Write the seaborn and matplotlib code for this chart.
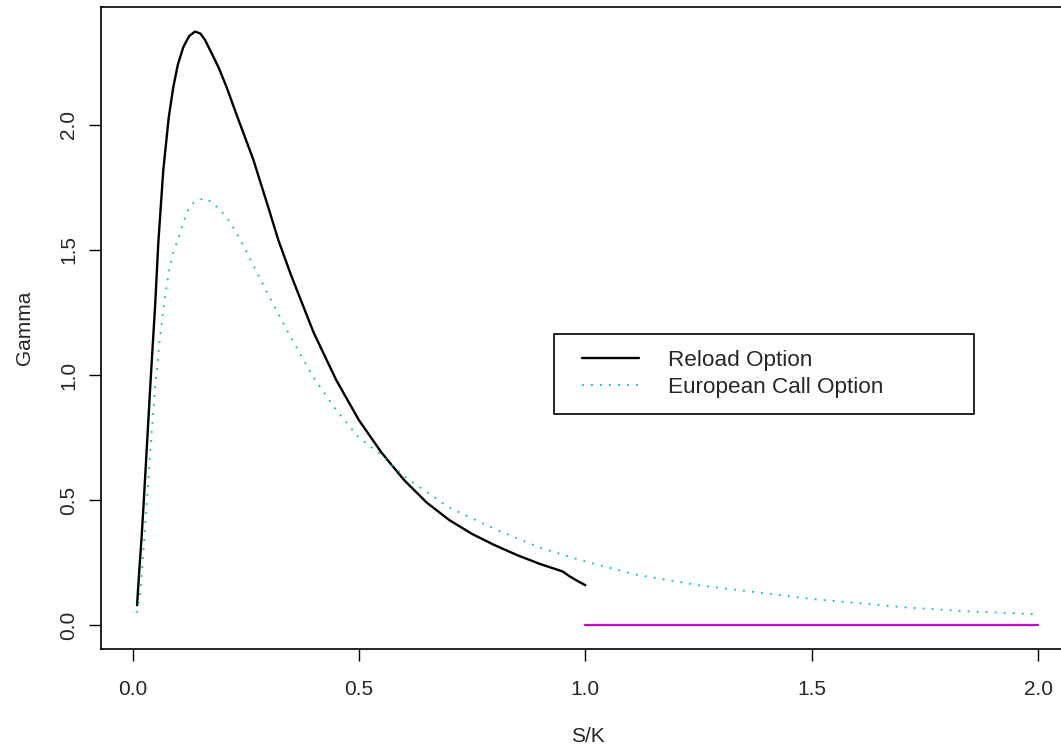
import matplotlib
matplotlib.use("Agg")
import matplotlib.pyplot as plt
from matplotlib.lines import Line2D
from matplotlib.legend_handler import HandlerLine2D
import seaborn as sns

# values
reload_x = [0.010, 0.015, 0.020, 0.025, 0.030, 0.035, 0.040, 0.045, 0.050, 0.057,
            0.068, 0.080, 0.090, 0.100, 0.112, 0.125, 0.138, 0.150, 0.160, 0.171,
            0.190, 0.208, 0.230, 0.267, 0.300, 0.322, 0.350, 0.400, 0.450, 0.500,
            0.550, 0.600, 0.650, 0.700, 0.750, 0.800, 0.850, 0.900, 0.950, 0.966,
            0.980, 1.000]
reload_y = [0.08, 0.22, 0.35, 0.50, 0.66, 0.82, 0.98, 1.13, 1.28, 1.53,
            1.82, 2.03, 2.15, 2.24, 2.31, 2.355, 2.373, 2.365, 2.34, 2.30,
            2.23, 2.15, 2.04, 1.86, 1.67, 1.54, 1.40, 1.17, 0.98, 0.82,
            0.69, 0.58, 0.49, 0.42, 0.365, 0.32, 0.28, 0.245, 0.215, 0.195,
            0.18, 0.16]

euro_x = [0.010, 0.017, 0.0225, 0.028, 0.035, 0.040, 0.050, 0.060, 0.070, 0.080,
          0.090, 0.103, 0.112, 0.123, 0.135, 0.146, 0.162, 0.175, 0.186, 0.207,
          0.226, 0.250, 0.300, 0.350, 0.400, 0.450, 0.500, 0.550, 0.600, 0.700,
          0.800, 0.900, 1.000, 1.110, 1.250, 1.500, 1.709, 1.850, 1.990]
euro_y = [0.05, 0.13, 0.25, 0.40, 0.58, 0.72, 0.95, 1.14, 1.29, 1.41,
          1.49, 1.555, 1.61, 1.66, 1.69, 1.70, 1.707, 1.69, 1.673, 1.633,
          1.58, 1.50, 1.32, 1.15, 0.99, 0.86, 0.75, 0.68, 0.595, 0.47,
          0.385, 0.31, 0.255, 0.203, 0.16, 0.105, 0.071, 0.055, 0.045]

zero_x = [1.0, 2.0]
zero_y = [0.0, 0.0]

x_ticks = [0.0, 0.5, 1.0, 1.5, 2.0]
x_labels = ["0.0", "0.5", "1.0", "1.5", "2.0"]
y_ticks = [0.0, 0.5, 1.0, 1.5, 2.0]
y_labels = ["0.0", "0.5", "1.0", "1.5", "2.0"]

sns.set_style("ticks")
plt.rcParams['font.family'] = ['Liberation Sans', 'DejaVu Sans']

fig = plt.figure(figsize=(10.61, 7.46), dpi=100)
ax = fig.add_axes([0.0952, 0.1300, 0.9171, 0.8602])

sns.lineplot(x=reload_x, y=reload_y, ax=ax, color='black', linewidth=1.7)
sns.lineplot(x=euro_x, y=euro_y, ax=ax, color='#00BEBE', linewidth=1.3,
             linestyle=(0, (1, 4)))
sns.lineplot(x=zero_x, y=zero_y, ax=ax, color='#CC00CC', linewidth=1.6)

ax.set_xlim(-0.0696, 2.0796)
ax.set_ylim(-0.095, 2.47)
ax.set_xticks(x_ticks)
ax.set_xticklabels(x_labels)
ax.set_yticks(y_ticks)
ax.set_yticklabels(y_labels)

ax.tick_params(direction='out', length=8.5, width=1, color='black',
               labelsize=15, pad=14)
ax.tick_params(axis='y', labelrotation=90, pad=8)
for lab in ax.get_yticklabels():
    lab.set_va('center')

for sp in ax.spines.values():
    sp.set_visible(True)
    sp.set_color('black')
    sp.set_linewidth(1.2)

ax.set_xlabel('S/K', fontsize=15, labelpad=20)
ax.set_ylabel('Gamma', fontsize=15, labelpad=18)

leg = ax.legend([ax.lines[0], ax.lines[1]], ['Reload Option', 'European Call Option'],
                loc='upper left', bbox_to_anchor=(0.4656, 0.3707, 0.4317, 0.12),
                mode='expand', borderaxespad=0, borderpad=0.7,
                handlelength=3.09, handletextpad=1.28, labelspacing=0.28,
                fontsize=16.2, frameon=True, fancybox=False, framealpha=1,
                handler_map={Line2D: HandlerLine2D(xpad=0.55)})
leg.get_frame().set_edgecolor('black')
leg.get_frame().set_linewidth(1.2)

fig.savefig('out.png', dpi=100)
